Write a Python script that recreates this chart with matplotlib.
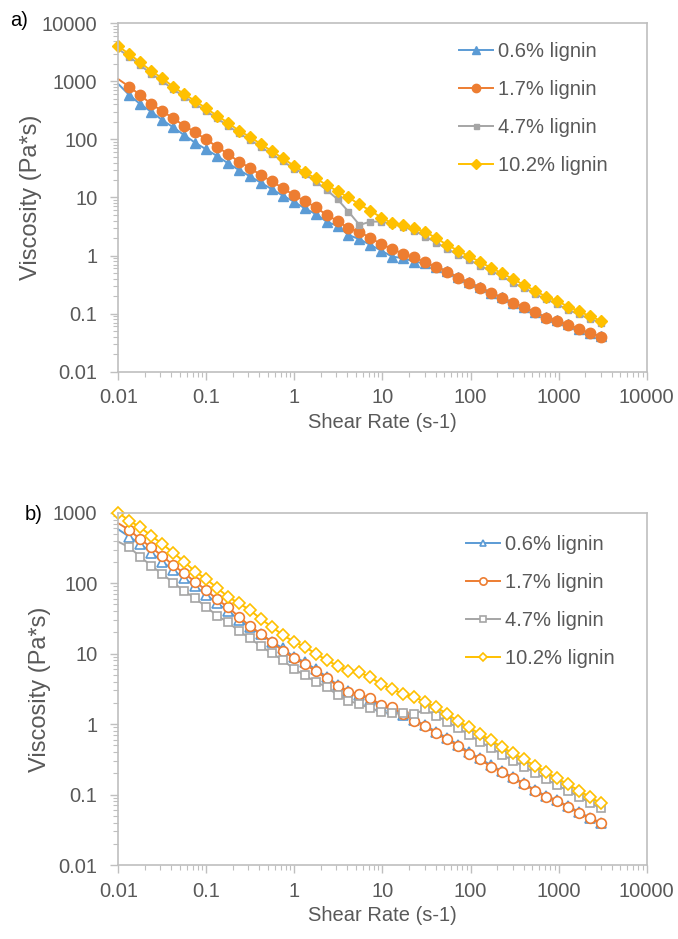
import matplotlib
matplotlib.use("Agg")
import matplotlib.pyplot as plt
from matplotlib.ticker import FixedLocator, FuncFormatter, LogLocator, NullFormatter

plt.rcParams['font.family'] = ['Liberation Sans', 'DejaVu Sans']

# shear rate (1/s)
shear = [0.01, 0.0133, 0.0177, 0.0236, 0.0315, 0.0419, 0.0558, 0.0744, 0.0991,
         0.132, 0.176, 0.234, 0.312, 0.415, 0.553, 0.737, 0.981, 1.31, 1.74,
         2.32, 3.09, 4.11, 5.48, 7.30, 9.72, 12.9, 17.2, 23.0, 30.6, 40.7,
         54.3, 72.3, 96.2, 128, 171, 227, 303, 404, 537, 716, 953, 1270,
         1690, 2250, 3000]

labels = ['0.6% lignin', '1.7% lignin', '4.7% lignin', '10.2% lignin']

# panel a) viscosity (Pa*s)
blue_a = [900, 582, 407, 300, 216, 162, 119, 88, 67.6, 51.9, 38.8, 29.8, 23.2,
          18.0, 13.9, 10.8, 8.5, 6.5, 5.2, 3.83, 3.23, 2.26, 1.91, 1.52, 1.21,
          0.957, 0.90, 0.785, 0.73, 0.64, 0.54, 0.42, 0.345, 0.285, 0.23, 0.19,
          0.155, 0.13, 0.107, 0.087, 0.077, 0.065, 0.055, 0.046, 0.041]
orange_a = [1090, 810, 582, 407, 309, 231, 173, 133, 100, 75, 56, 41.4, 32.5,
            24.2, 19.0, 14.5, 11.0, 8.7, 6.8, 5.0, 3.94, 2.95, 2.58, 1.99, 1.58,
            1.28, 1.08, 0.93, 0.76, 0.643, 0.52, 0.415, 0.333, 0.28, 0.224,
            0.188, 0.151, 0.129, 0.105, 0.085, 0.0757, 0.0638, 0.0537, 0.0458,
            0.040]
gray_a = [3600, 2650, 1900, 1350, 1010, 730, 545, 410, 308, 230, 172, 127, 99,
          74, 56, 42, 31.5, 25.4, 18.7, 13.5, 9.3, 5.7, 3.36, 3.84, 3.84, 3.5,
          3.14, 2.68, 2.11, 1.67, 1.30, 1.02, 0.84, 0.67, 0.54, 0.445, 0.333,
          0.280, 0.218, 0.177, 0.147, 0.116, 0.0975, 0.081, 0.070]
yellow_a = [4000, 2960, 2130, 1510, 1130, 810, 605, 459, 344, 256, 194, 141,
            111, 83, 63, 47, 35.5, 27, 21.4, 16.4, 12.8, 10.0, 7.6, 5.9, 4.5,
            3.6, 3.36, 2.95, 2.55, 2.0, 1.52, 1.21, 0.97, 0.78, 0.61, 0.495,
            0.395, 0.311, 0.248, 0.196, 0.167, 0.132, 0.111, 0.090, 0.0757]

# panel b) viscosity (Pa*s)
blue_b = [580, 456, 360, 271, 202, 154, 117, 90, 69, 51.8, 40.6, 30, 23.6,
          19.0, 14.8, 11.9, 9.0, 7.6, 6.0, 4.7, 3.6, 2.9, 2.6, 2.2, 1.80, 1.62,
          1.35, 1.15, 0.96, 0.78, 0.63, 0.51, 0.40, 0.325, 0.26, 0.215, 0.175,
          0.145, 0.116, 0.096, 0.083, 0.069, 0.057, 0.047, 0.040]
orange_b = [707, 569, 420, 323, 243, 181, 138, 105, 80, 59, 45.5, 33.4, 24.7,
            19.2, 14.6, 11.0, 8.6, 7.2, 5.6, 4.47, 3.5, 2.85, 2.67, 2.32, 1.87,
            1.73, 1.37, 1.12, 0.94, 0.74, 0.608, 0.489, 0.38, 0.315, 0.249,
            0.211, 0.170, 0.141, 0.1135, 0.0933, 0.0818, 0.0673, 0.0553, 0.046,
            0.039]
gray_b = [387, 323, 238, 177, 135, 102, 77.5, 61, 46.4, 34.5, 27.8, 21, 16.5,
          12.8, 10.1, 8.1, 6.1, 4.9, 4.0, 3.35, 2.59, 2.15, 1.91, 1.68, 1.50,
          1.42, 1.42, 1.39, 1.62, 1.31, 1.08, 0.88, 0.70, 0.56, 0.46, 0.37,
          0.303, 0.249, 0.205, 0.165, 0.137, 0.1135, 0.0933, 0.0768, 0.0638]
yellow_b = [1000, 770, 621, 472, 360, 271, 202, 146, 115, 86, 64, 51.8, 41.6,
            31, 24.1, 18.4, 14.8, 12.5, 10.0, 8.1, 6.7, 5.6, 5.4, 4.6, 3.67,
            3.12, 2.67, 2.45, 2.04, 1.73, 1.39, 1.10, 0.90, 0.72, 0.59, 0.47,
            0.385, 0.317, 0.255, 0.211, 0.170, 0.141, 0.1135, 0.0933, 0.0752]

colors = ['#5B9BD5', '#ED7D31', '#A5A5A5', '#FFC000']
txt = '#595959'
edge = '#BFBFBF'

fig = plt.figure(figsize=(6.78, 9.39), dpi=100)
ax_a = fig.add_axes([0.1745, 0.6042, 0.7793, 0.3710])
ax_b = fig.add_axes([0.1745, 0.0788, 0.7793, 0.3752])


def style(ax, ymax, ylab_x):
    ax.set_xscale('log')
    ax.set_yscale('log')
    ax.set_xlim(0.01, 10000)
    ax.set_ylim(0.01, ymax)
    fmt = FuncFormatter(lambda v, p: '{:g}'.format(v))
    ax.xaxis.set_major_locator(FixedLocator([10.0 ** e for e in range(-2, 5)]))
    ax.yaxis.set_major_locator(FixedLocator([10.0 ** e for e in range(-2, 5) if 10.0 ** e <= ymax]))
    ax.xaxis.set_major_formatter(fmt)
    ax.yaxis.set_major_formatter(fmt)
    ax.xaxis.set_minor_locator(LogLocator(base=10, subs=range(2, 10), numticks=20))
    ax.yaxis.set_minor_locator(LogLocator(base=10, subs=range(2, 10), numticks=20))
    ax.xaxis.set_minor_formatter(NullFormatter())
    ax.yaxis.set_minor_formatter(NullFormatter())
    ax.tick_params(which='major', direction='out', length=6, width=1, color=edge,
                   labelsize=14.5, labelcolor=txt)
    ax.tick_params(axis='y', which='major', pad=9)
    ax.tick_params(axis='x', which='major', pad=6)
    ax.tick_params(which='minor', direction='out', length=3.5, width=0.8, color=edge)
    for s in ax.spines.values():
        s.set_color(edge)
        s.set_linewidth(1.2)
    ax.set_xlabel('Shear Rate (s-1)', fontsize=14.5, color=txt, labelpad=4)
    ax.set_ylabel('Viscosity (Pa*s)', fontsize=17, color=txt)
    ax.yaxis.set_label_coords(ylab_x, 0.5)


# panel a: filled markers
series_a = [blue_a, orange_a, gray_a, yellow_a]
marks_a = [('^', 7.5), ('o', 7.5), ('s', 4.5), ('D', 6)]
for vals, c, (m, ms), lab in zip(series_a, colors, marks_a, labels):
    every = None if m == 'D' else slice(1, None)
    ax_a.plot(shear, vals, color=c, lw=1.4, marker=m, ms=ms, mfc=c, mec=c,
              markevery=every, label=lab, clip_on=False)
style(ax_a, 10000, -0.145)

# panel b: hollow markers
series_b = [blue_b, orange_b, gray_b, yellow_b]
marks_b = [('^', 6.5), ('o', 7), ('s', 5.5), ('D', 6)]
for vals, c, (m, ms), lab in zip(series_b, colors, marks_b, labels):
    every = None if m == 'D' else slice(1, None)
    ax_b.plot(shear, vals, color=c, lw=1.4, marker=m, ms=ms, mfc='white', mec=c,
              mew=1.2, markevery=every, label=lab, clip_on=False)
style(ax_b, 1000, -0.127)

leg_kw = dict(loc='upper left', frameon=False, fontsize=14.5, handlelength=1.7,
              handletextpad=0.25, labelspacing=0.95, borderpad=0, borderaxespad=0,
              labelcolor=txt)
ax_a.legend(bbox_to_anchor=(0.645, 0.947), markerscale=0.8, **leg_kw)
ax_b.legend(bbox_to_anchor=(0.658, 0.937), markerscale=0.75, **leg_kw)

fig.text(0.015, 0.978, 'a)', fontsize=14.5, color='black', va='center')
fig.text(0.036, 0.452, 'b)', fontsize=14.5, color='black', va='center')

fig.savefig('out.png', dpi=100)
